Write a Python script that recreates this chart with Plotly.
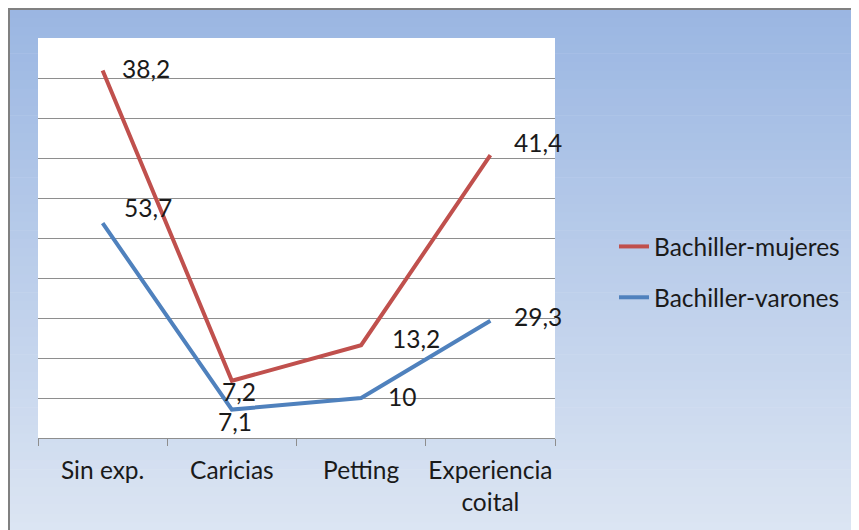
import numpy as np
import plotly.graph_objects as go

# ---- data ----
categories = ["Sin exp.", "Caricias", "Petting", "Experiencia coital"]
tick_labels = ["Sin exp.", "Caricias", "Petting", "Experiencia<br>coital"]
mujeres = [38.2, 7.2, 13.2, 41.4]
varones = [53.7, 7.1, 10, 29.3]

# stacked line chart (mujeres stacked on varones)
varones_arr = np.array(varones)
mujeres_stacked = varones_arr + np.array(mujeres)

W, H = 859, 530
OFF = 8  # page offset of the figure in the browser
L, R, T, B = 38 - OFF, W - (555 - OFF), 38 - OFF, H - (438 - OFF)
PW, PH = W - L - R, H - T - B
FONT = "Lato, 'Liberation Sans', Arial, sans-serif"
FS = 24.5
RED = "#C0504D"
BLUE = "#4F81BD"
GRID = "#8E8E8E"
TXT = "#1a1a1a"


def px_x(px):
    # px given in screen coords of the reference
    return (px - OFF - L) / PW


def px_y(py):
    return (H - B - (py - OFF)) / PH


def fmt(v):
    return f"{v:g}".replace(".", ",")


fig = go.Figure()
fig.add_trace(go.Scatter(
    x=categories, y=mujeres_stacked, mode="lines", name="Bachiller-mujeres",
    line=dict(color=RED, width=4), legendgroup="m", hoverinfo="skip"))
fig.add_trace(go.Scatter(
    x=categories, y=varones_arr, mode="lines", name="Bachiller-varones",
    line=dict(color=BLUE, width=4), legendgroup="v", hoverinfo="skip"))

# data labels (value text at stacked positions)
m_pos = [("left", 17, 2), ("center", 7, -11), ("left", 29, 7), ("left", 22, 13)]
v_pos = [("left", 19, 16), ("center", 3, -12), ("left", 25, 2), ("left", 22, 4)]
annotations = []
for vals, ys, pos in [(mujeres, mujeres_stacked, m_pos), (varones, varones_arr, v_pos)]:
    for c, v, y, (xa, xs, ysh) in zip(categories, vals, ys, pos):
        annotations.append(dict(
            x=c, y=float(y), xref="x", yref="y", text=fmt(v), showarrow=False,
            xanchor=xa, yanchor="middle", xshift=xs, yshift=ysh,
            font=dict(family=FONT, size=FS, color=TXT)))

# gradient background bands
shapes = []
top_c = np.array([154, 182, 226])
bot_c = np.array([221, 230, 243])
y0p, y1p = 9, 540
N = 60
for i in range(N):
    a = y0p + (y1p - y0p) * i / N
    b = y0p + (y1p - y0p) * (i + 1) / N + 0.6
    t = (i + 0.5) / N
    c = (top_c + (bot_c - top_c) * t).round().astype(int)
    shapes.append(dict(
        type="rect", xref="paper", yref="paper", layer="below",
        x0=px_x(9), x1=px_x(W + 12), y0=px_y(a), y1=px_y(b),
        fillcolor=f"rgb({c[0]},{c[1]},{c[2]})", line=dict(width=0)))
# white plot area
shapes.append(dict(type="rect", xref="paper", yref="paper", layer="below",
                   x0=0, x1=1, y0=0, y1=1, fillcolor="white", line=dict(width=0)))
# outer border
shapes.append(dict(type="rect", xref="paper", yref="paper", layer="below",
                   x0=px_x(9), x1=px_x(W + 20), y0=px_y(9), y1=px_y(H + 20),
                   fillcolor="rgba(0,0,0,0)", line=dict(color="#808080", width=2)))

fig.update_layout(
    width=W, height=H,
    margin=dict(l=L, r=R, t=T, b=B, pad=0, autoexpand=False),
    paper_bgcolor="white", plot_bgcolor="white",
    font=dict(family=FONT, size=FS, color=TXT),
    showlegend=True,
    legend=dict(x=px_x(614), xanchor="left", y=px_y(272), yanchor="middle",
                bgcolor="rgba(0,0,0,0)", traceorder="grouped", tracegroupgap=16,
                font=dict(family=FONT, size=FS, color=TXT)),
    shapes=shapes,
    annotations=annotations,
    xaxis=dict(type="category", categoryorder="array", categoryarray=categories,
               tickmode="array", tickvals=categories, ticktext=tick_labels,
               tickangle=0, automargin=False, ticklabelstandoff=11,
               range=[-0.5, 3.5], tickson="boundaries", ticks="outside", ticklen=7,
               tickcolor=GRID, showline=True, linecolor=GRID, linewidth=1,
               showgrid=False, zeroline=False, fixedrange=True),
    yaxis=dict(range=[0, 100], dtick=10, tick0=0, showticklabels=False,
               automargin=False,
               showgrid=True, gridcolor=GRID, gridwidth=1, zeroline=False,
               showline=False, ticks="", fixedrange=True),
)

fig.write_html("out.html")
